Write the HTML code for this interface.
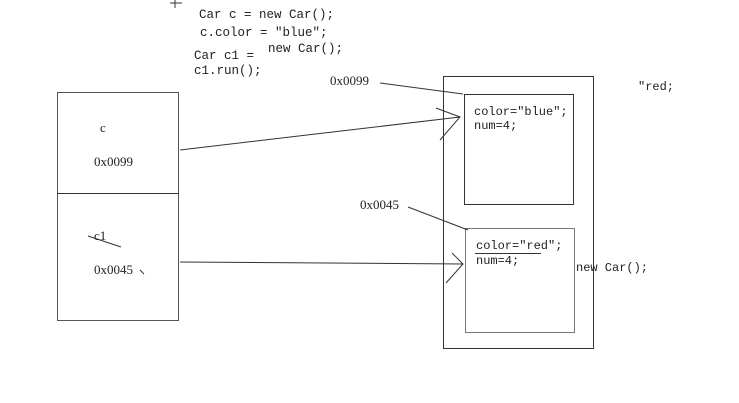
<!DOCTYPE html>
<html><head><meta charset="utf-8"><style>
html,body{margin:0;padding:0;background:#fff;width:739px;height:403px;overflow:hidden}
svg text{font-family:"Liberation Serif","Noto Serif CJK SC",serif;font-size:13px;fill:#222}
</style></head><body>
<svg width="739" height="403" viewBox="0 0 739 403" xmlns="http://www.w3.org/2000/svg">
<g fill="none" stroke="#333" stroke-width="1">
<path d="M175 0V8M170 3H182"/>
<rect x="57.5" y="92.5" width="121" height="228" stroke="#555"/>
<line x1="57" y1="193.5" x2="179" y2="193.5"/>
<rect x="443.5" y="76.5" width="150" height="272"/>
<rect x="464.5" y="94.5" width="109" height="110"/>
<rect x="465.5" y="228.5" width="109" height="104" stroke="#777"/>
<path d="M180 150L460 117M436 108L460 117L440 140"/>
<path d="M180 262L463 264M452 253L463 264L446 283"/>
<path d="M380 83L463 94M408 207L468 230"/>
<path d="M88 236L121 247M140 270L144 274"/>
<line x1="475" y1="253.5" x2="541" y2="253.5"/>
</g>
<g style="font-family:'Liberation Mono','Noto Serif CJK SC',monospace;font-size:12px">
<text x="199" y="18" style="font-family:inherit;font-size:12.5px">Car c = new Car();</text>
<text x="200" y="36" style="font-family:inherit;font-size:12.5px">c.color = "blue";</text>
<text x="194" y="59" style="font-family:inherit;font-size:12.5px">Car c1 =</text>
<text x="268" y="52" style="font-family:inherit;font-size:12.5px">new Car();</text>
<text x="194" y="74" style="font-family:inherit;font-size:12.5px">c1.run();</text>
<text x="474" y="115" style="font-family:inherit;font-size:12px">color="blue";</text>
<text x="474" y="129" style="font-family:inherit;font-size:12px">num=4;</text>
<text x="476" y="249" style="font-family:inherit;font-size:12px">color="red";</text>
<text x="476" y="264" style="font-family:inherit;font-size:12px">num=4;</text>
<text x="576" y="271" style="font-family:inherit;font-size:12px">new Car();</text>
<text x="638" y="90" style="font-family:inherit;font-size:12px">"red;</text>
</g>
<text x="330" y="85">0x0099</text>
<text x="360" y="209">0x0045</text>
<text x="100" y="132">c</text>
<text x="94" y="166">0x0099</text>
<text x="94" y="240">c1</text>
<text x="94" y="274">0x0045</text>
</svg>
</body></html>
